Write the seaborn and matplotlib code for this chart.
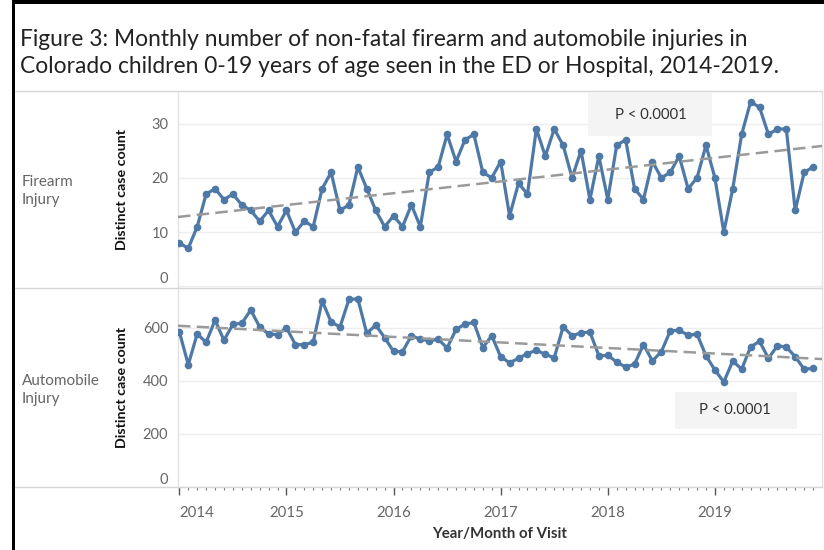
import numpy as np
import pandas as pd
import matplotlib.pyplot as plt
import seaborn as sns
from matplotlib.patches import Rectangle
from matplotlib.lines import Line2D

# Monthly counts, Jan 2014 .. Dec 2019
years = [2014, 2015, 2016, 2017, 2018, 2019]
firearm = [8, 7, 11, 17, 18, 16, 17, 15, 14, 12, 14, 11,
           14, 10, 12, 11, 18, 21, 14, 15, 22, 18, 14, 11,
           13, 11, 15, 11, 21, 22, 28, 23, 27, 28, 21, 20,
           23, 13, 19, 17, 29, 24, 29, 26, 20, 25, 16, 24,
           16, 26, 27, 18, 16, 23, 20, 21, 24, 18, 20, 26,
           20, 10, 18, 28, 34, 33, 28, 29, 29, 14, 21, 22]
automobile = [585, 461, 577, 545, 629, 553, 613, 617, 667, 603, 577, 574,
              600, 537, 536, 546, 702, 622, 603, 707, 709, 579, 610, 563,
              511, 510, 570, 557, 551, 557, 524, 594, 614, 620, 525, 570,
              491, 468, 485, 503, 515, 500, 487, 604, 570, 581, 584, 495,
              496, 471, 452, 463, 537, 475, 510, 588, 591, 572, 576, 495,
              441, 396, 475, 444, 528, 549, 485, 532, 528, 491, 444, 447]
row_titles = ['Firearm\nInjury', 'Automobile\nInjury']
p_text = 'P < 0.0001'

df = pd.DataFrame({'month': np.arange(len(firearm)),
                   'firearm': firearm,
                   'automobile': automobile})

sns.set_style('white')
plt.rcParams['font.family'] = ['Lato', 'DejaVu Sans']

W, H = 824, 550
fig = plt.figure(figsize=(W / 100, H / 100), dpi=100)


def fx(px):
    return px / W


def fy(py):
    return 1 - py / H


# black frame on left/top
fig.add_artist(Rectangle((fx(12), 0), fx(3), 1, transform=fig.transFigure,
                         color='black', lw=0))
fig.add_artist(Rectangle((fx(12), fy(4)), 1, 4 / H, transform=fig.transFigure,
                         color='black', lw=0))

title = ('Figure 3: Monthly number of non-fatal firearm and automobile injuries in\n'
         'Colorado children 0-19 years of age seen in the ED or Hospital, 2014-2019.')
fig.text(fx(20), fy(53), title, fontsize=16.4, color='#222222', va='center',
         ha='left', linespacing=1.36)

ax1 = fig.add_axes([fx(178), fy(288), fx(644), 197 / H])
ax2 = fig.add_axes([fx(178), fy(487), fx(644), 199 / H])

line_color = '#4e79a7'
panels = [(ax1, 'firearm', [0, 10, 20, 30], (-0.3, 36)),
          (ax2, 'automobile', [0, 200, 400, 600], (0, 750))]

for ax, col, yt, yl in panels:
    ax.set_xlim(-0.15, 72)
    sns.regplot(data=df, x='month', y=col, ax=ax, scatter=False, ci=None,
                truncate=False, color='#9a9a9a',
                line_kws={'lw': 1.8, 'ls': (0, (5, 2.5)), 'zorder': 4})
    sns.lineplot(data=df, x='month', y=col, ax=ax, color=line_color, lw=2.3,
                 marker='o', markersize=5.5, markeredgewidth=0, zorder=3)
    ax.set_xlim(-0.15, 72)
    ax.set_ylim(*yl)
    ax.set_yticks(yt)
    ax.set_yticklabels([str(v) for v in yt])
    ax.grid(axis='y', color='#eeeeee', lw=1)
    ax.set_axisbelow(True)
    for s in ['top', 'bottom']:
        ax.spines[s].set_visible(False)
    for s in ['left', 'right']:
        ax.spines[s].set_color('#e2e2e2')
        ax.spines[s].set_linewidth(1)
    ax.tick_params(axis='y', length=5, width=1, color='#444444', pad=2,
                   labelsize=10.5, labelcolor='#666666')
    # Tableau-style zero label: no tick mark, nudged upward
    ax.yaxis.get_major_ticks()[0].tick1line.set_visible(False)
    ax.get_yticklabels()[0].set_va('bottom')
    ax.set_ylabel('Distinct case count', fontsize=10.3, fontweight='bold',
                  color='#111111')
    ax.yaxis.set_label_coords(-50 / 644, 0.5)
    ax.set_xlabel('')

ax1.set_xticks([])

year_pos = [(y - years[0]) * 12 for y in years]
ax2.set_xticks(year_pos)
ax2.set_xticklabels([str(y) for y in years])
ax2.set_xticks(np.arange(len(firearm)), minor=True)
ax2.tick_params(axis='x', which='major', length=6, width=1, color='#555555',
                pad=8, labelsize=10.8, labelcolor='#666666', bottom=True)
ax2.tick_params(axis='x', which='minor', length=2.5, width=0.8,
                color='#777777', bottom=True)
ax2.get_xticklabels()[0].set_ha('left')

# panel separator lines
for py in [91, 288, 487]:
    fig.add_artist(Line2D([fx(15), fx(822)], [fy(py), fy(py)],
                          transform=fig.transFigure, color='#d6d6d6', lw=1))

# row headers
fig.text(fx(22), fy(191), row_titles[0], fontsize=11, color='#666666',
         va='center', ha='left', linespacing=1.3)
fig.text(fx(22), fy(390), row_titles[1], fontsize=11, color='#666666',
         va='center', ha='left', linespacing=1.3)

# p-value boxes
fig.add_artist(Rectangle((fx(588), fy(136)), fx(124), 44 / H,
                         transform=fig.transFigure, color='#f4f4f4', lw=0, zorder=5))
fig.text(fx(651), fy(115), p_text, fontsize=10.7, color='#333333',
         ha='center', va='center', zorder=6)
fig.add_artist(Rectangle((fx(675), fy(429)), fx(122), 37 / H,
                         transform=fig.transFigure, color='#f4f4f4', lw=0, zorder=5))
fig.text(fx(735), fy(410), p_text, fontsize=10.7, color='#333333',
         ha='center', va='center', zorder=6)

fig.text(fx(500), fy(534), 'Year/Month of Visit', fontsize=10.8,
         fontweight='bold', color='#333333', ha='center', va='center')

fig.savefig('out.png', dpi=100)
